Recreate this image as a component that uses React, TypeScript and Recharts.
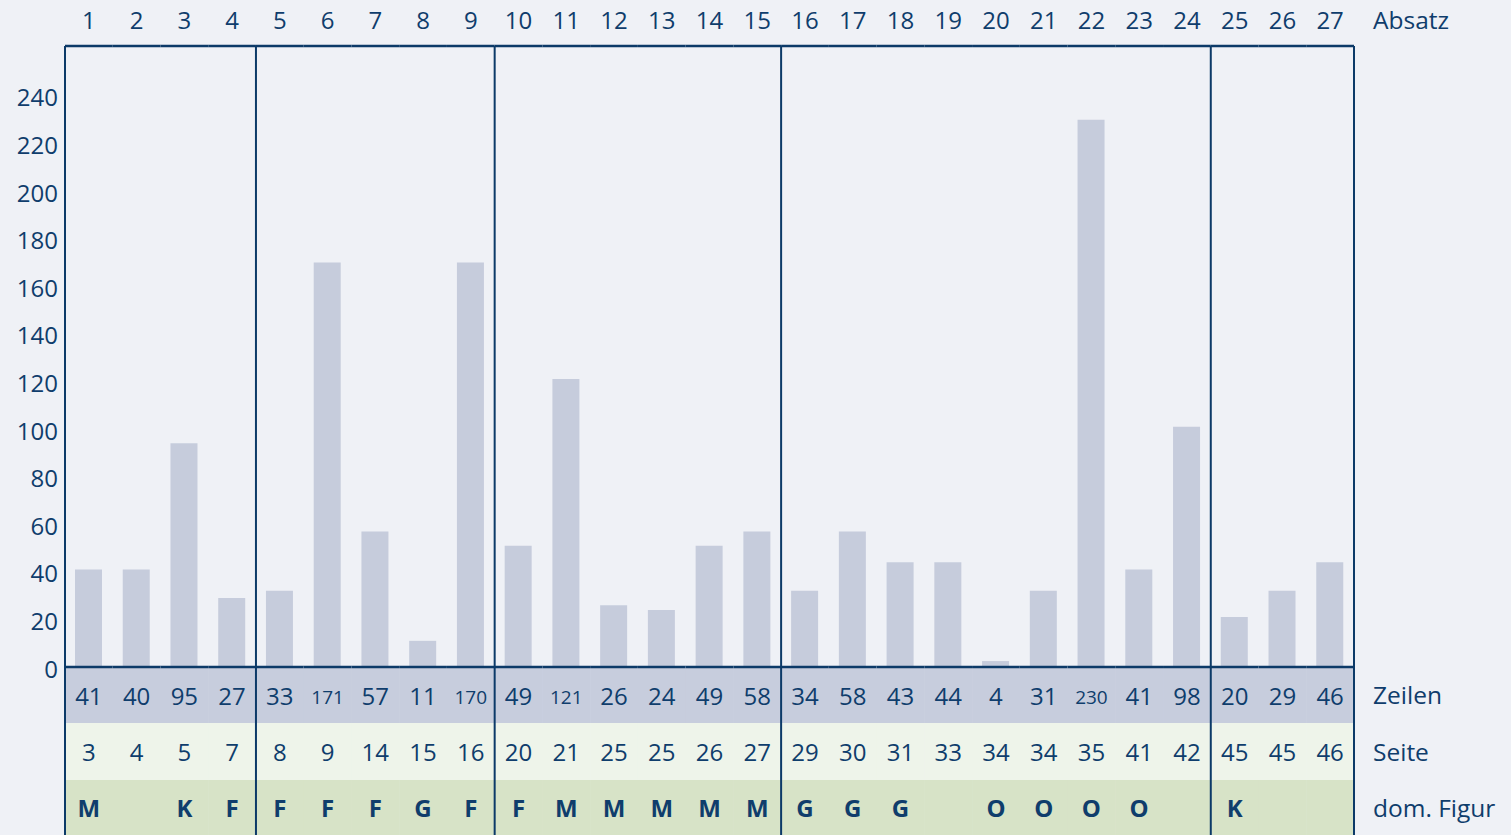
import React from "react";
import { ComposedChart, Bar, XAxis, YAxis } from "recharts";

const absatz = [1, 2, 3, 4, 5, 6, 7, 8, 9, 10, 11, 12, 13, 14, 15, 16, 17, 18, 19, 20, 21, 22, 23, 24, 25, 26, 27];
// bar heights as drawn in the picture
const barHeights = [41, 41, 94, 29, 32, 170, 57, 11, 170, 51, 121, 26, 24, 51, 57, 32, 57, 44, 44, 2.5, 32, 230, 41, 101, 21, 32, 44];
// printed line counts
const zeilen = [41, 40, 95, 27, 33, 171, 57, 11, 170, 49, 121, 26, 24, 49, 58, 34, 58, 43, 44, 4, 31, 230, 41, 98, 20, 29, 46];
const seite = [3, 4, 5, 7, 8, 9, 14, 15, 16, 20, 21, 25, 25, 26, 27, 29, 30, 31, 33, 34, 34, 35, 41, 42, 45, 45, 46];
const figur = ["M", "", "K", "F", "F", "F", "F", "G", "F", "F", "M", "M", "M", "M", "M", "G", "G", "G", "", "O", "O", "O", "O", "", "K", "", ""];
const groupStarts = [1, 5, 10, 16, 25];
const yTicks = [0, 20, 40, 60, 80, 100, 120, 140, 160, 180, 200, 220, 240];
const rowLabels = ["Zeilen", "Seite", "dom. Figur"];
const topLabel = "Absatz";

const data = absatz.map((a, i) => ({ absatz: a, bar: barHeights[i], zeilen: zeilen[i], seite: seite[i], figur: figur[i] }));

const W = 1511;
const H = 835;
const LEFT = 65;
const RIGHT = 1354;
const TOP = 46;
const BASE = 667;
const COL = (RIGHT - LEFT) / absatz.length;
const ROW1 = 723;
const ROW2 = 780;

const BG = "#eff1f6";
const NAVY = "#0f3d6c";
const LINE = "#0c3a68";
const BAR = "#c6ccdc";
const BAND1 = "#c7cddd";
const BAND2 = "#eef4ea";
const BAND3 = "#d7e3c7";
const FONT = "'Open Sans', 'Noto Sans', sans-serif";

const TopTick = (props: any) => {
  const { x, payload } = props;
  const i = absatz.indexOf(payload.value);
  return (
    <g>
      <line x1={x - COL / 2} x2={x + COL / 2} y1={TOP} y2={TOP} stroke={LINE} strokeWidth={2.5} />
      <text x={x} y={29} textAnchor="middle" fill={NAVY} fontSize={24} fontFamily={FONT}>
        {payload.value}
      </text>
      {i === absatz.length - 1 && (
        <text x={1373} y={29} textAnchor="start" fill={NAVY} fontSize={24.5} fontFamily={FONT}>
          {topLabel}
        </text>
      )}
    </g>
  );
};

const BottomTick = (props: any) => {
  const { x, payload } = props;
  const i = absatz.indexOf(payload.value);
  const z = zeilen[i];
  const left = x - COL / 2;
  const isStart = groupStarts.includes(payload.value);
  const isLast = i === absatz.length - 1;
  return (
    <g>
      <rect x={left} y={BASE} width={COL + 0.5} height={ROW1 - BASE} fill={BAND1} />
      <rect x={left} y={ROW1} width={COL + 0.5} height={ROW2 - ROW1} fill={BAND2} />
      <rect x={left} y={ROW2} width={COL + 0.5} height={H - ROW2} fill={BAND3} />
      <line x1={left} x2={left + COL} y1={BASE} y2={BASE} stroke={LINE} strokeWidth={2.5} />
      {isStart && <line x1={left} x2={left} y1={TOP} y2={H} stroke={LINE} strokeWidth={2} />}
      {isLast && <line x1={left + COL} x2={left + COL} y1={TOP} y2={H} stroke={LINE} strokeWidth={2} />}
      <text x={x} y={z >= 100 ? 704 : 705} textAnchor="middle" fill={NAVY} fontSize={z >= 100 ? 19 : 24} fontFamily={FONT}>
        {z}
      </text>
      <text x={x} y={761} textAnchor="middle" fill={NAVY} fontSize={24} fontFamily={FONT}>
        {seite[i]}
      </text>
      <text x={x} y={817} textAnchor="middle" fill={NAVY} fontSize={24} fontWeight={700} fontFamily={FONT}>
        {figur[i]}
      </text>
      {isLast && (
        <g>
          <text x={1373} y={704} fill={NAVY} fontSize={24.5} fontFamily={FONT}>{rowLabels[0]}</text>
          <text x={1373} y={761} fill={NAVY} fontSize={24.5} fontFamily={FONT}>{rowLabels[1]}</text>
          <text x={1373} y={817} fill={NAVY} fontSize={24.5} fontFamily={FONT}>{rowLabels[2]}</text>
        </g>
      )}
    </g>
  );
};

const YTick = (props: any) => {
  const { x, y, payload } = props;
  return (
    <text x={x} y={y + 2} dy="0.355em" textAnchor="end" fill={NAVY} fontSize={24} fontFamily={FONT}>
      {payload.value}
    </text>
  );
};

export default function App() {
  return (
    <div style={{ position: "absolute", left: 0, top: 0, width: W, height: H, background: BG }}>
      <ComposedChart width={W} height={H} data={data} margin={{ top: 0, right: W - RIGHT, bottom: 0, left: 0 }}>
        <XAxis
          xAxisId="top"
          orientation="top"
          dataKey="absatz"
          type="number"
          domain={[0.5, 27.5]}
          ticks={absatz}
          interval={0}
          height={TOP}
          axisLine={false}
          tickLine={false}
          tickSize={0}
          tick={(p: any) => <TopTick {...p} />}
        />
        <XAxis
          xAxisId="bottom"
          orientation="bottom"
          dataKey="absatz"
          type="number"
          domain={[0.5, 27.5]}
          ticks={absatz}
          interval={0}
          height={H - BASE}
          axisLine={false}
          tickLine={false}
          tickSize={0}
          tick={(p: any) => <BottomTick {...p} />}
        />
        <YAxis
          type="number"
          domain={[0, 261]}
          ticks={yTicks}
          interval={0}
          width={LEFT}
          axisLine={false}
          tickLine={false}
          tickSize={0}
          tickMargin={7}
          tick={(p: any) => <YTick {...p} />}
        />
        <Bar xAxisId="bottom" dataKey="bar" fill={BAR} barSize={27} isAnimationActive={false} />
      </ComposedChart>
    </div>
  );
}
